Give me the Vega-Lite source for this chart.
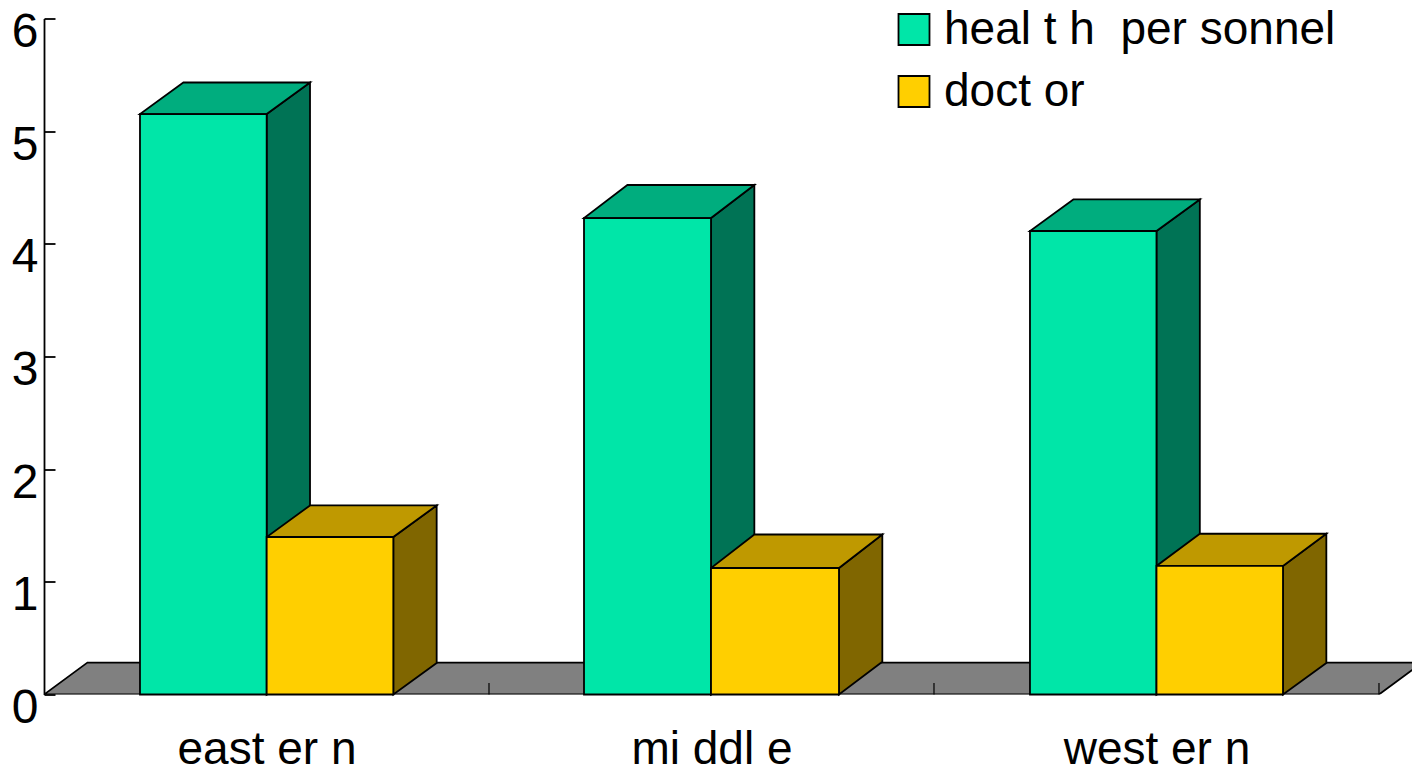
{
"$schema":"https://vega.github.io/schema/vega-lite/v6.json",
"width":1368,"height":676,
"autosize":{"type":"none"},
"padding":{"left":44,"top":18.5,"right":0,"bottom":71.5},
"background":"white",
"config":{"view":{"stroke":null},"font":"Liberation Sans"},
"datasets":{
"floor":[{"y":0,"xl":0,"xr":3},{"y":0.283,"xl":0.0974,"xr":3.0974}],
"ticks":[{"x":1,"y":0,"y2":0.102},{"x":2,"y":0,"y2":0.102},{"x":3,"y":0,"y2":0.102}],
"side":[
{"group":"eastern","series":"health personnel","x":0.5004,"top":5.152,"bottom":0},
{"group":"eastern","series":"health personnel","x":0.5978,"top":5.432,"bottom":0.28},
{"group":"eastern","series":"doctor","x":0.785,"top":1.398,"bottom":0},
{"group":"eastern","series":"doctor","x":0.8824,"top":1.678,"bottom":0.28},
{"group":"middle","series":"health personnel","x":1.4989,"top":4.229,"bottom":0},
{"group":"middle","series":"health personnel","x":1.5963,"top":4.522,"bottom":0.29},
{"group":"middle","series":"doctor","x":1.7865,"top":1.123,"bottom":0},
{"group":"middle","series":"doctor","x":1.8839,"top":1.42,"bottom":0.29},
{"group":"western","series":"health personnel","x":2.5,"top":4.114,"bottom":0},
{"group":"western","series":"health personnel","x":2.5974,"top":4.394,"bottom":0.28},
{"group":"western","series":"doctor","x":2.7843,"top":1.141,"bottom":0},
{"group":"western","series":"doctor","x":2.8817,"top":1.427,"bottom":0.28}],
"top":[
{"group":"eastern","series":"health personnel","y":5.152,"xl":0.2157,"xr":0.5004},
{"group":"eastern","series":"health personnel","y":5.432,"xl":0.3131,"xr":0.5978},
{"group":"eastern","series":"doctor","y":1.398,"xl":0.5004,"xr":0.785},
{"group":"eastern","series":"doctor","y":1.678,"xl":0.5978,"xr":0.8824},
{"group":"middle","series":"health personnel","y":4.229,"xl":1.2135,"xr":1.4989},
{"group":"middle","series":"health personnel","y":4.522,"xl":1.3109,"xr":1.5963},
{"group":"middle","series":"doctor","y":1.123,"xl":1.4989,"xr":1.7865},
{"group":"middle","series":"doctor","y":1.42,"xl":1.5963,"xr":1.8839},
{"group":"western","series":"health personnel","y":4.114,"xl":2.2157,"xr":2.5},
{"group":"western","series":"health personnel","y":4.394,"xl":2.3131,"xr":2.5974},
{"group":"western","series":"doctor","y":1.141,"xl":2.5,"xr":2.7843},
{"group":"western","series":"doctor","y":1.427,"xl":2.5974,"xr":2.8817}],
"front":[
{"group":"eastern","series":"health personnel","label":"heal t h \u00a0per sonnel","x0":0.2157,"x1":0.5004,"value":5.152},
{"group":"eastern","series":"doctor","label":"doct or","x0":0.5004,"x1":0.785,"value":1.398},
{"group":"middle","series":"health personnel","label":"heal t h \u00a0per sonnel","x0":1.2135,"x1":1.4989,"value":4.229},
{"group":"middle","series":"doctor","label":"doct or","x0":1.4989,"x1":1.7865,"value":1.123},
{"group":"western","series":"health personnel","label":"heal t h \u00a0per sonnel","x0":2.2157,"x1":2.5,"value":4.114},
{"group":"western","series":"doctor","label":"doct or","x0":2.5,"x1":2.7843,"value":1.141}]
},
"resolve":{"scale":{"fill":"independent"}},
"layer":[
{"data":{"name":"floor"},
 "mark":{"type":"area","orient":"horizontal","fill":"#808080","stroke":"black","strokeWidth":1.8,"clip":true},
 "encoding":{
  "y":{"field":"y","type":"quantitative","stack":null,"scale":{"domain":[0,6],"nice":false,"zero":false},"title":null,
   "axis":{"values":[0,1,2,3,4,5,6],"format":"d","tickSize":-11,"tickColor":"black","tickWidth":1.8,"domainColor":"black","domainWidth":1.8,"grid":false,"labelFont":"Liberation Sans","labelFontSize":48,"labelColor":"black","labelPadding":17,"labelOffset":14,"zindex":1,"labelOverlap":false,"labelBound":false,"labelFlush":false}},
  "x":{"field":"xl","type":"quantitative","stack":null,"scale":{"domain":[0,3.0742],"nice":false,"zero":false},"title":null,
   "axis":{"values":[0.5,1.5,2.5],"labelExpr":"datum.value==0.5?'east er n':datum.value==1.5?'mi ddl e':'west er n'","ticks":false,"domain":false,"grid":false,"labelFont":"Liberation Sans","labelFontSize":46,"labelColor":"black","labelPadding":33,"labelLimit":500,"labelAngle":0,"labelOverlap":false,"labelBound":false,"labelFlush":false}},
  "x2":{"field":"xr"}}},
{"data":{"name":"ticks"},
 "mark":{"type":"rule","color":"black","strokeWidth":1.2},
 "encoding":{"x":{"field":"x","type":"quantitative"},"y":{"field":"y","type":"quantitative"},"y2":{"field":"y2"}}},
{"data":{"name":"side"},
 "mark":{"type":"area","stroke":"black","strokeWidth":1.8},
 "encoding":{
  "x":{"field":"x","type":"quantitative"},
  "y":{"field":"top","type":"quantitative","stack":null},
  "y2":{"field":"bottom"},
  "detail":{"field":"group"},
  "fill":{"field":"series","type":"nominal","legend":null,"scale":{"domain":["health personnel","doctor"],"range":["#007355","#806600"]}}}},
{"data":{"name":"top"},
 "mark":{"type":"area","orient":"horizontal","stroke":"black","strokeWidth":1.8},
 "encoding":{
  "y":{"field":"y","type":"quantitative","stack":null},
  "x":{"field":"xl","type":"quantitative","stack":null},
  "x2":{"field":"xr"},
  "detail":{"field":"group"},
  "fill":{"field":"series","type":"nominal","legend":null,"scale":{"domain":["health personnel","doctor"],"range":["#00AD7E","#BF9900"]}}}},
{"data":{"name":"front"},
 "mark":{"type":"rect","stroke":"black","strokeWidth":1.8},
 "encoding":{
  "x":{"field":"x0","type":"quantitative"},
  "x2":{"field":"x1"},
  "y":{"field":"value","type":"quantitative"},
  "y2":{"datum":0},
  "fill":{"field":"label","type":"nominal","scale":{"domain":["heal t h \u00a0per sonnel","doct or"],"range":["#00E6A8","#FFCF00"]},
   "legend":{"title":null,"orient":"none","legendX":847,"legendY":-12,"direction":"vertical","symbolType":"square","symbolSize":961,"symbolStrokeColor":"black","symbolStrokeWidth":1.8,"labelFont":"Liberation Sans","labelFontSize":46,"labelColor":"black","labelOffset":7,"rowPadding":16,"labelLimit":600,"padding":0}}}}
]
}
